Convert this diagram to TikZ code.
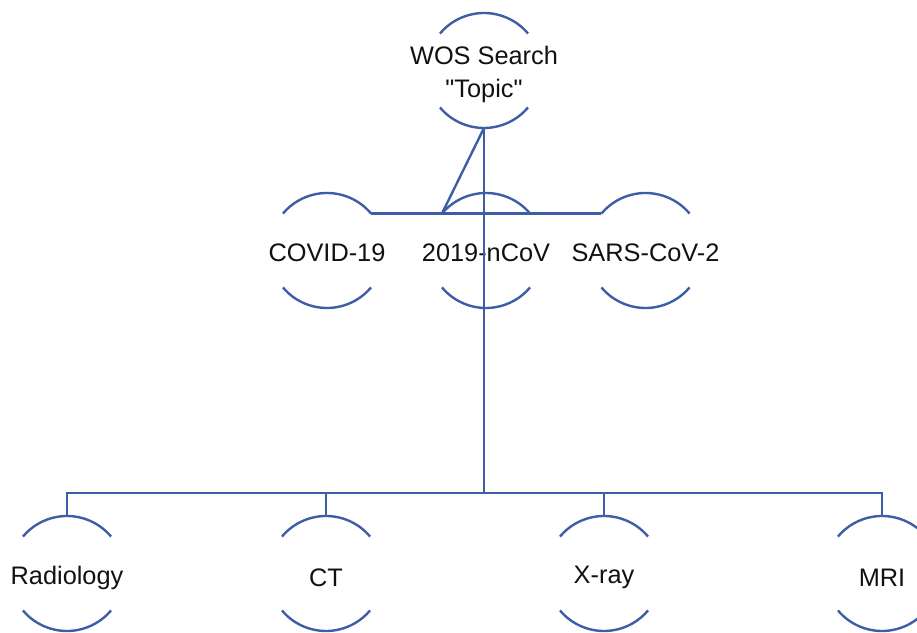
\documentclass[tikz,border=0pt]{standalone}
\usepackage{fontspec}
\setmainfont{Liberation Sans}[Ligatures=TeXOff]
\usetikzlibrary{calc}
\definecolor{LinkBlue}{HTML}{3D5EA6}
\definecolor{Ink}{HTML}{111111}

\begin{document}
\begin{tikzpicture}[x=0.75pt,y=0.75pt,
  term/.style={circle,minimum size=86.25pt,inner sep=0pt,outer sep=0pt},
  word/.style={font=\fontsize{19}{24.75}\selectfont,text=Ink,align=center,yshift=-3pt},
  link/.style={draw=LinkBlue,line width=1.8pt}
]
\useasboundingbox (0,0) rectangle (917,632);
% search root
\node[term,label={[word]center:WOS Search\\"Topic"}] (wos) at (484,561.5) {};
% keyword row
\node[term,label={[word,yshift=1.5pt]center:COVID-19}] (covid) at (327,381.5) {};
\node[term,label={[word,yshift=1.5pt]center:2019-nCoV}] (ncov) at (486,381.5) {};
\node[term,label={[word,yshift=1.5pt]center:SARS-CoV-2}] (sars) at (645.5,381.5) {};
% imaging row
\node[term,label={[word]center:Radiology}] (radio) at (67,58.5) {};
\node[term,label={[word]center:CT}] (ct) at (326,58.5) {};
\node[term,label={[word]center:X-ray}] (xray) at (604,58.5) {};
\node[term,label={[word]center:MRI}] (mri) at (882,58.5) {};

% open circles: only top and bottom arcs
\foreach \n in {wos,covid,ncov,sars,radio,ct,xray,mri} {
  \draw[link] (\n.40) arc[start angle=40,end angle=140,radius=43.125pt];
  \draw[link] (\n.220) arc[start angle=220,end angle=320,radius=43.125pt];
}

% keyword links
\draw[link] (covid.40) -- (sars.140);
\draw[link] (wos.south) -- (ncov.140);

% trunk down to the imaging bus
\coordinate (bus) at (484,139);
\draw[link] (wos.south) -- (bus);
\draw[link] (radio.north) |- (mri.north |- bus) -- (mri.north);
\foreach \n in {ct,xray} \draw[link] (\n.north) -- (\n.north |- bus);
\end{tikzpicture}
\end{document}
